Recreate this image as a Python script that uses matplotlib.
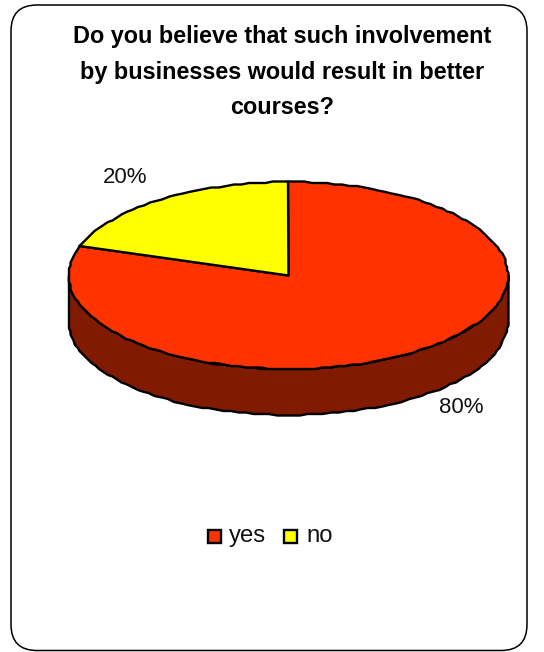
import numpy as np
import matplotlib
matplotlib.use("Agg")
import matplotlib.pyplot as plt
from matplotlib.patches import FancyBboxPatch, Rectangle

plt.rcParams['font.family'] = ['Liberation Sans', 'DejaVu Sans']

W, H = 544, 652
title_lines = ["Do you believe that such involvement",
               "by businesses would result in better",
               "courses?"]
categories = ["yes", "no"]
shares = [80, 20]
colors = ["#FF3300", "#FFFF00"]
side_color = "#801A00"

CX, CY, RX, RY, DEPTH = 288.5, 275.5, 219.5, 93.5, 46
STEP = 1.5   # coarse grid that gives the rim its stepped outline


def rim(a0, a1, drop=0.0):
    """Points on the tilted ellipse; angles in degrees clockwise from 12 o'clock."""
    t = np.radians(np.linspace(a0, a1, max(int(abs(a1 - a0) * 0.5), 2)))
    x = CX + RX * np.sin(t)
    y = CY - RY * np.cos(t) + drop
    return np.round(x / STEP) * STEP, np.round(y / STEP) * STEP


fig = plt.figure(figsize=(W / 100, H / 100), dpi=100, facecolor="white")
ax = fig.add_axes([0, 0, 1, 1])
ax.set_xlim(0, W)
ax.set_ylim(H, 0)
ax.axis("off")

# chart frame with rounded corners
ax.add_patch(FancyBboxPatch((11 + 26, 5 + 26), 516 - 52, 645.5 - 52,
                            boxstyle="round,pad=26,rounding_size=26",
                            fc="white", ec="black", lw=1.1, zorder=1))

# title
for line, y in zip(title_lines, (36.5, 72, 108)):
    ax.text(282.5, y, line, ha="center", va="center", fontsize=16.8,
            fontweight="bold", color="black", zorder=5)

# side wall of the disc (front half only)
xt, yt = rim(90, 270)
xb, yb = rim(270, 90, DEPTH)
ax.fill(np.r_[xt, xb], np.r_[yt, yb], fc=side_color, ec="black", lw=1.7,
        joinstyle="round", zorder=2)

# top face slices, clockwise from 12 o'clock
start = 0.0
total = sum(shares)
for share, color in zip(shares, colors):
    end = start + 360.0 * share / total
    x, y = rim(start, end)
    ax.fill(np.r_[CX, x], np.r_[CY, y], fc=color, ec="black", lw=1.7,
            joinstyle="round", zorder=3)
    start = end

# slice value labels
ax.text(125.5, 177.5, f"{shares[1]}%", ha="center", va="center", fontsize=16, color="#111111", zorder=5)
ax.text(461.5, 407.5, f"{shares[0]}%", ha="center", va="center", fontsize=16, color="#111111", zorder=5)

# legend
for name, color, sx, tx in zip(categories, colors, (208, 284), (229, 306)):
    ax.add_patch(Rectangle((sx, 529.5), 13, 13, fc=color, ec="black", lw=1.7, zorder=4))
    ax.text(tx, 536, name, ha="left", va="center", fontsize=17.2, color="#111111", zorder=5)

fig.savefig("out.png", dpi=100)
